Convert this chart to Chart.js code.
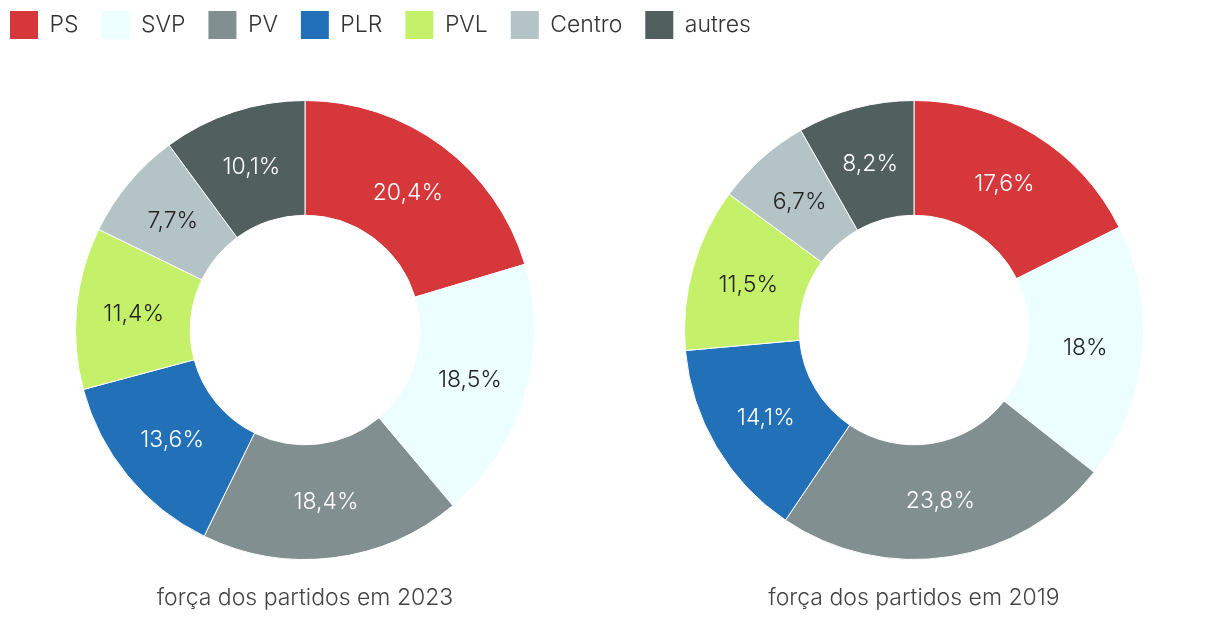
<!DOCTYPE html>
<html>
<head>
<meta charset="utf-8">
<script src="https://cdn.jsdelivr.net/npm/chart.js@4.4.1/dist/chart.umd.min.js"></script>
<style>
  html, body { margin:0; padding:0; background:#fff; }
  body { width:1220px; height:640px; position:relative; overflow:hidden; }
  .box { position:absolute; }
</style>
</head>
<body>
<div class="box" style="left:-13px;top:-12px;width:1233px;height:110px"><canvas id="c0"></canvas></div>
<div class="box" style="left:0;top:0;width:610px;height:640px"><canvas id="c1"></canvas></div>
<div class="box" style="left:609px;top:0;width:610px;height:640px"><canvas id="c2"></canvas></div>
<script>
const categories = ['PS', 'SVP', 'PV', 'PLR', 'PVL', 'Centro', 'autres'];
const values2023 = [20.4, 18.5, 18.4, 13.6, 11.4, 7.7, 10.1];
const values2019 = [17.6, 18, 23.8, 14.1, 11.5, 6.7, 8.2];
const sliceColors = ['#d5373a', '#ecfeff', '#818f90', '#2170b8', '#c5f06a', '#b4c4c6', '#515f5f'];
const labelColors = ['#ffffff', '#222222', '#ffffff', '#ffffff', '#222222', '#222222', '#ffffff'];
const chartTitles = ['força dos partidos em 2023', 'força dos partidos em 2019'];

const FONT = 'Inter, Roboto, "Noto Sans", sans-serif';
Chart.defaults.font.family = FONT;

function fmt(v) { return String(v).replace('.', ',') + '%'; }

const sliceLabels = {
  id: 'sliceLabels',
  afterDatasetsDraw(chart) {
    const ctx = chart.ctx;
    const meta = chart.getDatasetMeta(0);
    const data = chart.data.datasets[0].data;
    ctx.save();
    ctx.font = '300 23px ' + FONT;
    ctx.textAlign = 'center';
    ctx.textBaseline = 'middle';
    meta.data.forEach((arc, i) => {
      const p = arc.tooltipPosition();
      ctx.fillStyle = labelColors[i];
      ctx.fillText(fmt(data[i]), p.x, p.y + 1);
    });
    ctx.restore();
  }
};

// legend-only chart
new Chart(document.getElementById('c0'), {
  type: 'doughnut',
  data: { labels: categories, datasets: [{ data: values2023, backgroundColor: sliceColors, circumference: 0, borderWidth: 0 }] },
  options: {
    responsive: true, maintainAspectRatio: false, animation: false,
    events: [],
    plugins: {
      tooltip: { enabled: false },
      legend: {
        display: true, position: 'top', align: 'start',
        labels: {
          boxWidth: 28, boxHeight: 28, padding: 23, color: '#333',
          font: { size: 23, weight: '300' },
          generateLabels(chart) {
            return categories.map((c, i) => ({
              text: c, fillStyle: sliceColors[i], strokeStyle: sliceColors[i],
              lineWidth: 0, hidden: false, index: i, fontColor: '#333'
            }));
          }
        }
      }
    }
  }
});

function makeDonut(id, values, title) {
  new Chart(document.getElementById(id), {
    type: 'doughnut',
    data: { labels: categories, datasets: [{ data: values, backgroundColor: sliceColors, borderColor: '#ffffff', borderWidth: 1 }] },
    options: {
      responsive: true, maintainAspectRatio: false, animation: false,
      cutout: '50%',
      events: [],
      layout: { padding: { top: 100, bottom: 28.4, left: 0, right: 0 } },
      plugins: {
        legend: { display: false },
        tooltip: { enabled: false },
        title: {
          display: true, position: 'bottom', text: title, color: '#444',
          font: { size: 23, weight: '300' },
          padding: { top: 24, bottom: 0 }
        }
      }
    },
    plugins: [sliceLabels]
  });
}
makeDonut('c1', values2023, chartTitles[0]);
makeDonut('c2', values2019, chartTitles[1]);
</script>
</body>
</html>
